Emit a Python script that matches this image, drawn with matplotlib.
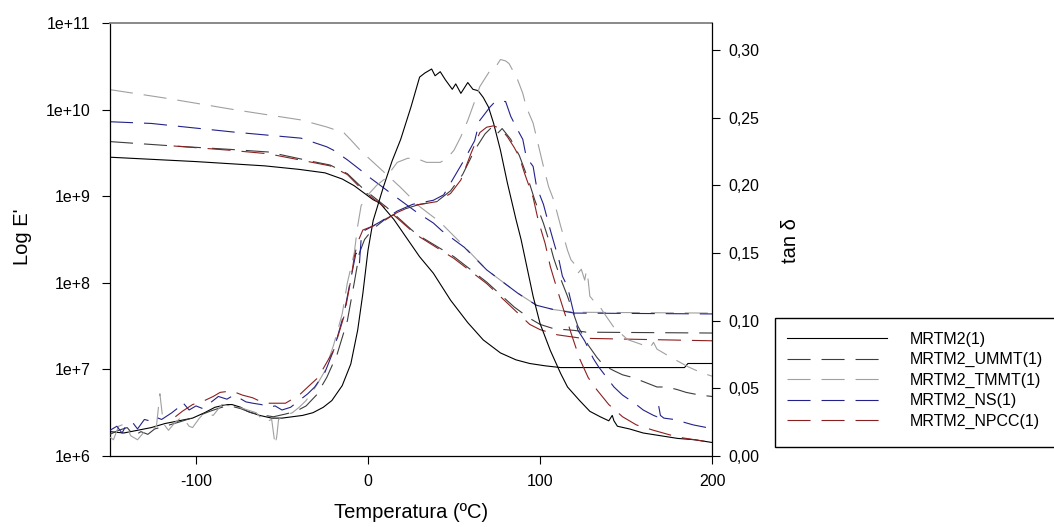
import matplotlib
matplotlib.use("Agg")
import matplotlib.pyplot as plt
from matplotlib.patches import Rectangle

plt.rcParams['font.family'] = ['Liberation Sans', 'DejaVu Sans']
plt.rcParams['lines.scale_dashes'] = False

###### DATA ###################################
labels = ["MRTM2(1)", "MRTM2_UMMT(1)", "MRTM2_TMMT(1)", "MRTM2_NS(1)", "MRTM2_NPCC(1)"]
colors = ["#000000", "#3c3c3c", "#a0a0a0", "#22228a", "#8b2020"]

# storage modulus E' (Pa)
t_e_mrtm2 = [-150, -100, -60, -40, -25, -15, -8, 3, 7, 15, 30, 38, 48, 58, 67, 77, 86, 94, 103, 112, 184, 186, 200]
e_mrtm2 = [2.82e9, 2.51e9, 2.24e9, 2.04e9, 1.86e9, 1.58e9, 1.32e9, 9.1e8, 8.3e8, 5.4e8, 2.0e8, 1.29e8, 6.3e7,
           3.47e7, 2.19e7, 1.55e7, 1.29e7, 1.17e7, 1.10e7, 1.05e7, 1.05e7, 1.17e7, 1.17e7]

t_e_ummt = [-150, -113, -80, -58, -32, -22, -12, -3, 11, 26, 30, 50, 69, 85, 94, 100, 108, 120, 127, 200]
e_ummt = [4.27e9, 3.80e9, 3.47e9, 3.24e9, 2.51e9, 2.29e9, 1.82e9, 1.23e9, 7.4e8, 3.98e8, 3.47e8, 2.0e8,
          1.02e8, 5.25e7, 3.89e7, 3.31e7, 2.95e7, 2.82e7, 2.69e7, 2.63e7]

t_e_tmmt = [-150, -117, -78, -39, -24, -14, -10, -4, 7, 19, 30, 42, 56, 69, 87, 98, 108, 120, 200]
e_tmmt = [1.70e10, 1.35e10, 1.0e10, 7.6e9, 6.3e9, 5.4e9, 4.47e9, 3.31e9, 2.09e9, 1.26e9, 7.6e8, 5.0e8,
          2.63e8, 1.41e8, 7.6e7, 5.5e7, 4.9e7, 4.57e7, 4.47e7]

t_e_ns = [-150, -126, -78, -39, -24, -20, -12, -3, 0, 15, 28, 38, 43, 56, 69, 87, 98, 108, 120, 200]
e_ns = [7.24e9, 6.92e9, 5.50e9, 4.68e9, 3.72e9, 3.39e9, 2.63e9, 1.91e9, 1.70e9, 1.02e9, 6.6e8, 4.9e8,
        3.98e8, 2.57e8, 1.41e8, 7.6e7, 5.5e7, 4.9e7, 4.47e7, 4.37e7]

t_e_npcc = [-113, -80, -58, -32, -22, -12, -3, 11, 26, 30, 50, 69, 85, 94, 100, 110, 124, 200]
e_npcc = [3.80e9, 3.39e9, 3.09e9, 2.45e9, 2.24e9, 1.78e9, 1.17e9, 7.1e8, 3.89e8, 3.39e8, 1.91e8, 9.8e7,
          4.9e7, 3.31e7, 2.88e7, 2.51e7, 2.29e7, 2.14e7]

# tan delta
t_tan_mrtm2 = [-150, -142, -134, -126, -118, -110, -102, -95, -89, -82, -79, -74, -70, -63, -56, -50, -44,
               -38, -32, -26, -21, -15, -10, -6, -3, 0, 3, 9, 14, 19, 25, 30, 33, 37, 39, 42, 45, 49, 51,
               54, 58, 61, 64, 67, 70, 73, 77, 81, 86, 89, 96, 100, 106, 112, 116, 123, 129, 135, 140, 142,
               143, 145, 152, 160, 170, 180, 190, 200]
tan_mrtm2 = [0.018, 0.017, 0.019, 0.021, 0.024, 0.026, 0.028, 0.032, 0.036, 0.038, 0.038, 0.036, 0.033,
             0.030, 0.028, 0.028, 0.029, 0.030, 0.032, 0.036, 0.041, 0.052, 0.068, 0.093, 0.120, 0.152,
             0.174, 0.199, 0.218, 0.234, 0.258, 0.280, 0.283, 0.286, 0.281, 0.284, 0.278, 0.271, 0.275,
             0.268, 0.276, 0.271, 0.270, 0.265, 0.258, 0.246, 0.226, 0.202, 0.175, 0.160, 0.118, 0.098,
             0.078, 0.061, 0.051, 0.041, 0.033, 0.029, 0.026, 0.030, 0.026, 0.022, 0.020, 0.017, 0.015,
             0.013, 0.012, 0.010]

t_tan_ummt = [-150, -145, -140, -136, -132, -128, -124, -118, -110, -100, -92, -85, -80, -74, -68, -60,
              -55, -48, -42, -36, -30, -24, -18, -12, -8, -5, -2, 3, 10, 20, 30, 40, 48, 55, 62, 68, 72,
              75, 78, 83, 88, 93, 97, 102, 105, 108, 112, 116, 122, 128, 133, 137, 143, 148, 154, 160, 168,
              174, 180, 185, 193, 200]
tan_ummt = [0.016, 0.019, 0.021, 0.015, 0.018, 0.016, 0.020, 0.022, 0.025, 0.029, 0.033, 0.036, 0.037,
            0.035, 0.032, 0.030, 0.029, 0.031, 0.033, 0.037, 0.045, 0.058, 0.075, 0.100, 0.128, 0.150,
            0.160, 0.168, 0.175, 0.182, 0.186, 0.188, 0.196, 0.208, 0.226, 0.238, 0.243, 0.238, 0.242,
            0.234, 0.222, 0.205, 0.189, 0.172, 0.160, 0.146, 0.131, 0.118, 0.096, 0.082, 0.073, 0.067,
            0.063, 0.060, 0.058, 0.055, 0.051, 0.051, 0.049, 0.047, 0.045, 0.044]

t_tan_tmmt = [-150, -148, -145, -141, -138, -134, -130, -126, -123, -121, -119, -116, -112, -108, -104,
              -102, -98, -95, -90, -85, -80, -75, -70, -65, -60, -56, -54, -53, -52, -48, -44, -40, -36,
              -30, -25, -20, -15, -12, -8, -6, -4, 0, 5, 10, 17, 23, 28, 34, 42, 46, 50, 54, 58, 62, 65,
              68, 71, 74, 77, 80, 82, 85, 87, 90, 92, 96, 99, 102, 105, 108, 112, 116, 118, 120, 122, 124,
              126, 127, 128, 129, 131, 134, 137, 143, 151, 160, 164, 166, 168, 176, 186, 193, 200]
tan_tmmt = [0.014, 0.012, 0.022, 0.024, 0.015, 0.012, 0.018, 0.019, 0.022, 0.046, 0.024, 0.019, 0.025,
            0.029, 0.022, 0.021, 0.028, 0.032, 0.030, 0.038, 0.037, 0.036, 0.034, 0.032, 0.025, 0.027,
            0.008, 0.015, 0.027, 0.030, 0.032, 0.036, 0.041, 0.052, 0.063, 0.082, 0.105, 0.128, 0.150,
            0.170, 0.185, 0.193, 0.200, 0.205, 0.217, 0.220, 0.220, 0.217, 0.217, 0.220, 0.226, 0.236,
            0.248, 0.262, 0.273, 0.279, 0.285, 0.287, 0.293, 0.292, 0.290, 0.283, 0.278, 0.268, 0.258,
            0.246, 0.230, 0.214, 0.199, 0.189, 0.170, 0.152, 0.145, 0.142, 0.135, 0.138, 0.130, 0.137,
            0.130, 0.118, 0.115, 0.112, 0.106, 0.095, 0.086, 0.082, 0.080, 0.084, 0.079, 0.073, 0.066,
            0.062, 0.059]

t_tan_ns = [-150, -146, -143, -140, -137, -134, -130, -127, -124, -120, -114, -110, -108, -104, -100, -96,
            -91, -87, -82, -78, -75, -71, -67, -62, -58, -54, -50, -45, -40, -35, -31, -25, -20, -14, -10,
            -7, -5, -4, -3, 0, 7, 17, 26, 38, 44, 50, 56, 62, 65, 71, 74, 77, 80, 83, 87, 90, 92, 96, 98,
            102, 106, 108, 111, 113, 116, 122, 126, 131, 134, 143, 148, 155, 160, 166, 168, 169, 170, 172,
            178, 189, 197, 200]
tan_ns = [0.019, 0.022, 0.017, 0.024, 0.025, 0.020, 0.027, 0.026, 0.029, 0.027, 0.032, 0.036, 0.040, 0.034,
          0.037, 0.035, 0.040, 0.044, 0.042, 0.045, 0.043, 0.040, 0.039, 0.038, 0.036, 0.037, 0.034, 0.036,
          0.041, 0.046, 0.051, 0.062, 0.078, 0.105, 0.131, 0.150, 0.142, 0.160, 0.166, 0.168, 0.173, 0.181,
          0.186, 0.189, 0.193, 0.206, 0.219, 0.233, 0.248, 0.258, 0.262, 0.262, 0.262, 0.251, 0.241, 0.234,
          0.221, 0.214, 0.199, 0.186, 0.167, 0.158, 0.145, 0.133, 0.125, 0.093, 0.085, 0.072, 0.066, 0.051,
          0.045, 0.039, 0.034, 0.030, 0.029, 0.037, 0.030, 0.028, 0.027, 0.023, 0.021, 0.021]

t_tan_npcc = [-112, -108, -102, -95, -90, -86, -80, -77, -73, -67, -62, -58, -52, -48, -44, -40, -35, -29,
              -20, -14, -10, -8, -6, -3, 7, 17, 26, 40, 48, 54, 60, 65, 69, 73, 77, 81, 85, 88, 91, 96, 99,
              103, 106, 110, 112, 118, 123, 128, 133, 140, 148, 156, 166, 180, 190, 200]
tan_npcc = [0.029, 0.033, 0.038, 0.041, 0.044, 0.047, 0.048, 0.047, 0.045, 0.043, 0.040, 0.039, 0.039,
            0.039, 0.042, 0.045, 0.051, 0.058, 0.078, 0.103, 0.130, 0.147, 0.158, 0.167, 0.172, 0.180,
            0.185, 0.188, 0.194, 0.204, 0.224, 0.239, 0.243, 0.244, 0.242, 0.236, 0.228, 0.221, 0.209,
            0.191, 0.174, 0.157, 0.140, 0.123, 0.115, 0.091, 0.072, 0.058, 0.049, 0.038, 0.029, 0.023,
            0.019, 0.014, 0.012, 0.010]
################################################

modulus = [(t_e_mrtm2, e_mrtm2), (t_e_ummt, e_ummt), (t_e_tmmt, e_tmmt), (t_e_ns, e_ns), (t_e_npcc, e_npcc)]
damping = [(t_tan_mrtm2, tan_mrtm2), (t_tan_ummt, tan_ummt), (t_tan_tmmt, tan_tmmt),
           (t_tan_ns, tan_ns), (t_tan_npcc, tan_npcc)]
dash = (16.6, 7.9)

fig = plt.figure(figsize=(10.54, 5.27), dpi=100)
ax = fig.add_axes([110 / 1054, 71 / 527, 602 / 1054, 433 / 527])
ax2 = ax.twinx()

handles = []
for i in range(5):
    ls = '-' if i == 0 else (0, dash)
    tt, ee = modulus[i]
    ax.plot(tt, ee, color=colors[i], lw=0.8, linestyle=ls)
    tt, dd = damping[i]
    h, = ax2.plot(tt, dd, color=colors[i], lw=0.8, linestyle=ls, label=labels[i])
    handles.append(h)

ax.set_xlim(-150, 200)
ax.set_yscale('log')
ax.set_ylim(1e6, 1e11)
ax.set_yticks([1e6, 1e7, 1e8, 1e9, 1e10, 1e11])
ax.set_yticklabels(["1e+6", "1e+7", "1e+8", "1e+9", "1e+10", "1e+11"])
ax.yaxis.set_minor_locator(matplotlib.ticker.NullLocator())
ax.set_xticks([-100, 0, 100, 200])
ax.set_xticklabels(["-100", "0", "100", "200"])
ax.tick_params(axis='y', direction='out', length=6, width=0.8, labelsize=11.5, pad=8)
ax.tick_params(axis='x', direction='out', length=6, width=0.8, labelsize=11.5, pad=7)

ax2.set_ylim(0, 0.32)
tv = [0.0, 0.05, 0.10, 0.15, 0.20, 0.25, 0.30]
ax2.set_yticks(tv)
ax2.set_yticklabels([("%.2f" % v).replace('.', ',') for v in tv])
ax2.tick_params(axis='y', direction='out', length=6, width=0.8, labelsize=11.5, pad=6)

for s in ['left', 'bottom']:
    ax.spines[s].set_linewidth(0.9)
ax.spines['right'].set_visible(False)
ax.spines['top'].set_color('#808080')
ax.spines['top'].set_linewidth(1.3)
for s in ['left', 'bottom', 'top']:
    ax2.spines[s].set_visible(False)
ax2.spines['right'].set_linewidth(0.9)

fig.text(411 / 1054, 1 - 513 / 527, "Temperatura (ºC)", ha='center', va='center', fontsize=14.5)
fig.text(22 / 1054, 1 - 237 / 527, "Log E'", ha='center', va='center', rotation=90, fontsize=14.5)
fig.text(790 / 1054, 1 - 241 / 527, "tan δ", ha='center', va='center', rotation=90, fontsize=14.5)

# legend box drawn separately so its size matches the reference
fig.patches.append(Rectangle((775 / 1054, 1 - 447 / 527), 290 / 1054, 129 / 527,
                             transform=fig.transFigure, facecolor='white', edgecolor='black',
                             lw=1.0, zorder=3))
leg = fig.legend(handles=handles, loc='upper left', bbox_to_anchor=(787 / 1054, 1 - 332 / 527),
                 borderaxespad=0, borderpad=0, fontsize=11.5, handlelength=6.25, handletextpad=1.45,
                 labelspacing=0.33, frameon=False)
leg.set_zorder(4)

fig.savefig("out.png", dpi=100)
